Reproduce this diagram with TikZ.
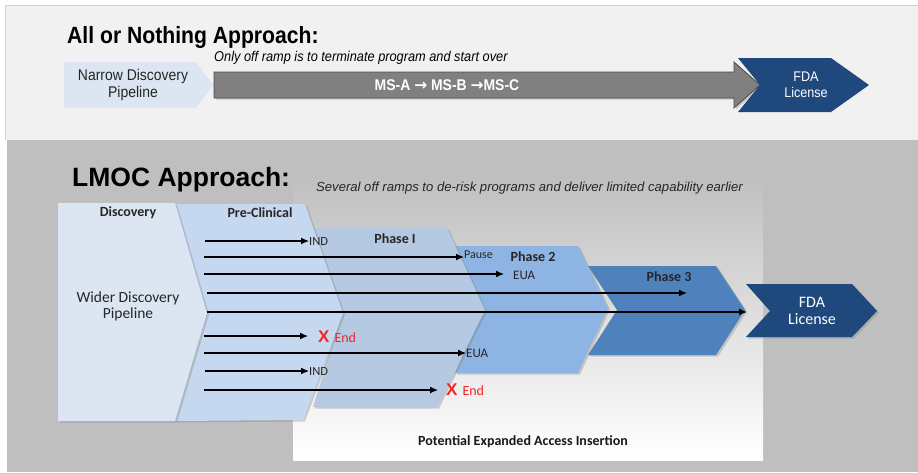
\documentclass[tikz,border=0pt]{standalone}
\usepackage{fontspec}
\setmainfont{Carlito}
\newfontfamily\arialfont{Liberation Sans}
\newfontfamily\narrowfont[FakeStretch=0.9]{Liberation Sans}
\newfontfamily\arrowfont{DejaVu Sans}
\usetikzlibrary{arrows.meta,shadows}
\definecolor{topgray}{HTML}{F1F1F1}
\definecolor{panelgray}{HTML}{BFBFBF}
\definecolor{msgray}{HTML}{808080}
\definecolor{discblue}{HTML}{DCE6F2}
\definecolor{preblue}{HTML}{C6D8EF}
\definecolor{oneblue}{HTML}{B5C9E3}
\definecolor{twoblue}{HTML}{8DB4E2}
\definecolor{threeblue}{HTML}{4F81BD}
\definecolor{fdablue}{HTML}{1F497D}
\definecolor{endred}{HTML}{F42525}
\begin{document}
\begin{tikzpicture}[x=1pt,y=-1pt,
    stage/.style={drop shadow={shadow xshift=2pt,shadow yshift=-1.5pt,opacity=0.35}},
    flow/.style={line width=1.2pt,-{Latex[length=8pt,width=7pt]}},
    phase/.style={font=\bfseries\fontsize{14}{16}\selectfont,text=black!85},
    tag/.style={anchor=west,inner sep=0pt,text=black!85},
    stoptag/.style={anchor=west,inner sep=0pt,text=endred,font=\fontsize{14}{14}\selectfont},
    topwhite/.style={text=white,align=center,font=\narrowfont\fontsize{14}{16}\selectfont}]
  \useasboundingbox (0,0) rectangle (918,472);

  \fill[topgray] (5,5) rectangle (918,140);
  \draw[gray!35] (5,140) -- (5,5) -- (918,5);
  \node[anchor=base west,inner sep=0pt,font=\narrowfont\bfseries\fontsize{23.5}{25}\selectfont] (allnone) at (67,43) {All or Nothing Approach:};
  \fill[discblue] (64,62) -- (196,62) -- (213,85) -- (196,108) -- (64,108) -- cycle;
  \node[align=center,text=black!85,font=\narrowfont\fontsize{15.5}{16.5}\selectfont] (narrow) at (133,85) {Narrow Discovery\\Pipeline};
  \draw[fill=msgray,draw=black!70,line width=0.8pt,stage] (214,72) -- (734,72) -- (734,62) -- (760,85) -- (734,108) -- (734,98) -- (214,98) -- cycle;
  \node[anchor=base west,inner sep=0pt,font=\narrowfont\itshape\fontsize{14.2}{15}\selectfont] (onlyoff) at (214,61) {Only off ramp is to terminate program and start over};
  \node[text=white,font=\narrowfont\bfseries\fontsize{15.5}{17}\selectfont] (ms) at (447,85) {MS-A {\arrowfont→} MS-B {\arrowfont→}MS-C};
  \fill[fdablue] (738,58) -- (831,58) -- (869,85) -- (831,112) -- (738,112) -- (760,85) -- cycle;
  \node[topwhite] (fdatop) at (806,85) {FDA\\License};

  \fill[panelgray] (7,140) rectangle (918,472);
  \shade[top color=panelgray,bottom color=white] (293,175) rectangle (763,460);
  \node[anchor=base west,inner sep=0pt,font=\arialfont\bfseries\fontsize{26.5}{28}\selectfont] (lmoc) at (72,186) {LMOC Approach:};
  \node[anchor=base west,inner sep=0pt,text=black!85,font=\arialfont\itshape\fontsize{13.1}{14}\selectfont] (several) at (316,191) {Several off ramps to de-risk programs and deliver limited capability earlier};

  \fill[fdablue,stage] (746,284) -- (852,284) -- (877,311) -- (852,337) -- (746,337) -- (770,311) -- cycle;
  \fill[threeblue,stage] (588,266) -- (716,266) -- (745,310) -- (716,355) -- (588,355) -- (617,310) -- cycle;
  \fill[twoblue,stage] (455,246) -- (578,246) -- (608,308) -- (578,373) -- (455,373) -- (483,308) -- cycle;
  \fill[oneblue,stage] (313,228) -- (447,228) -- (485,310) -- (437,407) -- (313,407) -- (342,313) -- cycle;
  \fill[preblue,stage] (175,204) -- (305,204) -- (343,313) -- (303,420) -- (175,421) -- (207,313) -- cycle;
  \fill[discblue,stage] (58,203) -- (175,203) -- (207,313) -- (175,421) -- (58,421) -- cycle;

  \node[phase] (discovery) at (128,213) {Discovery};
  \node[align=center,text=black!85,font=\fontsize{15.5}{16}\selectfont] (wider) at (128,306) {Wider Discovery\\Pipeline};
  \node[phase] (preclin) at (260,213) {Pre-Clinical};
  \node[phase] (phaseone) at (395,239) {Phase I};
  \node[phase] (phasetwo) at (533,257) {Phase 2};
  \node[phase] (phasethree) at (669,277) {Phase 3};
  \node[align=center,text=white,font=\fontsize{16}{17}\selectfont] (fdalow) at (812,311) {FDA\\License};
  \node[text=black!90,font=\bfseries\fontsize{14}{15}\selectfont] (potential) at (523,442) {Potential Expanded Access Insertion};

  \node[tag,font=\fontsize{12.5}{13}\selectfont] (indA) at (309,241) {IND};
  \node[tag,font=\fontsize{12}{13}\selectfont] (pause) at (464,255) {Pause};
  \node[tag,font=\fontsize{13}{13}\selectfont] (euaA) at (513,275) {EUA};
  \node[stoptag] (endA) at (318,337) {{\arialfont\bfseries\fontsize{17}{17}\selectfont X}\hspace{5pt}End};
  \node[tag,font=\fontsize{13}{13}\selectfont] (euaB) at (466,353) {EUA};
  \node[tag,font=\fontsize{12.5}{13}\selectfont] (indB) at (309,371) {IND};
  \node[stoptag] (endB) at (446,390) {{\arialfont\bfseries\fontsize{17}{17}\selectfont X}\hspace{5pt}End};

  \coordinate (s1) at (205,241);
  \coordinate (s2) at (204,257);
  \coordinate (s3) at (204,274);
  \coordinate (s4) at (207,293);
  \coordinate (s5) at (207,312);
  \coordinate (s6) at (204,336);
  \coordinate (s7) at (204,353);
  \coordinate (s8) at (205,371);
  \coordinate (s9) at (204,390);
  \coordinate (p3end) at (687,293);
  \coordinate (fdaend) at (747,312);

  \draw[flow] (s1) -- (indA.west |- s1);
  \draw[flow] (s2) -- (pause.west |- s2);
  \draw[flow,shorten >=9pt] (s3) -- (euaA.west |- s3);
  \draw[flow] (s4) -- (p3end);
  \draw[flow] (s5) -- (fdaend);
  \draw[flow,shorten >=10pt] (s6) -- (endA.west |- s6);
  \draw[flow] (s7) -- (euaB.west |- s7);
  \draw[flow] (s8) -- (indB.west |- s8);
  \draw[flow,shorten >=8pt] (s9) -- (endB.west |- s9);
\end{tikzpicture}
\end{document}
